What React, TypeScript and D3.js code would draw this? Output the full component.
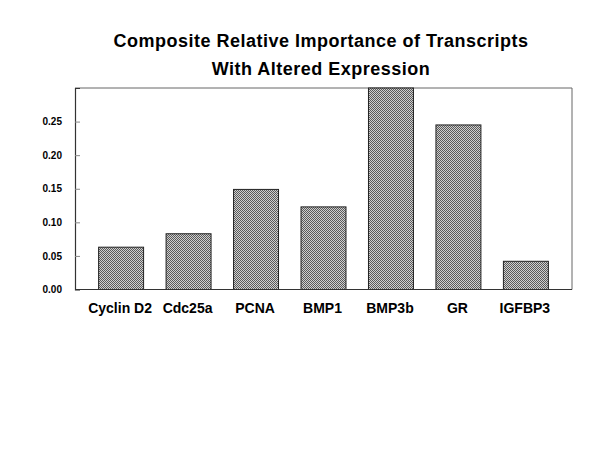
import { useRef, useEffect } from "react";
import * as d3 from "d3";

const categories = ["Cyclin D2", "Cdc25a", "PCNA", "BMP1", "BMP3b", "GR", "IGFBP3"];
const values = [0.063, 0.083, 0.149, 0.123, 0.3, 0.245, 0.042];
const yTicks = [0, 0.05, 0.1, 0.15, 0.2, 0.25];
const titleLines = ["Composite Relative Importance of Transcripts", "With Altered Expression"];

const App = () => {
  const svgRef = useRef<SVGSVGElement>(null);

  useEffect(() => {
    const svg = d3.select(svgRef.current);
    svg.selectAll("*").remove();

    const width = 600;
    const height = 462;
    const left = 75;
    const right = 572;
    const top = 88;
    const bottom = 289.5;
    const font = "'Liberation Sans', Arial, Helvetica, sans-serif";

    const defs = svg.append("defs");
    const pat = defs
      .append("pattern")
      .attr("id", "dither")
      .attr("width", 2)
      .attr("height", 2)
      .attr("patternUnits", "userSpaceOnUse");
    pat.append("rect").attr("width", 2).attr("height", 2).attr("fill", "#d0d0d0");
    pat.append("rect").attr("width", 1).attr("height", 1).attr("fill", "#5a5a5a");
    pat.append("rect").attr("x", 1).attr("y", 1).attr("width", 1).attr("height", 1).attr("fill", "#5a5a5a");

    svg.append("rect").attr("width", width).attr("height", height).attr("fill", "#fff");

    const x = d3
      .scaleBand()
      .domain(categories)
      .range([left, right])
      .paddingInner(1 / 3)
      .paddingOuter(0.35);

    const y = d3.scaleLinear().domain([0, 0.3]).range([bottom, top]);

    // frame
    svg
      .append("path")
      .attr("d", `M${left},${top}H${right}V${bottom}`)
      .attr("fill", "none")
      .attr("stroke", "#666")
      .attr("stroke-width", 1);

    // bars
    svg
      .selectAll(".bar")
      .data(categories)
      .enter()
      .append("rect")
      .attr("class", "bar")
      .attr("x", (d) => x(d)!)
      .attr("y", (d, i) => y(values[i]))
      .attr("width", x.bandwidth())
      .attr("height", (d, i) => y(0) - y(values[i]))
      .attr("fill", "url(#dither)")
      .attr("stroke", "#222")
      .attr("stroke-width", 1);

    // y axis
    const yAxis = svg
      .append("g")
      .attr("transform", `translate(${left},0)`)
      .call(
        d3
          .axisLeft(y)
          .tickValues(yTicks)
          .tickSize(-5)
          .tickPadding(13)
          .tickFormat(d3.format(".2f"))
      );
    yAxis.select(".domain").attr("stroke", "#333").attr("stroke-width", 1.2);
    yAxis.selectAll(".tick line").attr("stroke", "#888");
    yAxis
      .selectAll(".tick text")
      .attr("font-family", font)
      .attr("font-size", 10)
      .attr("font-weight", "bold")
      .attr("fill", "#000");

    // x axis baseline
    svg
      .append("line")
      .attr("x1", left)
      .attr("x2", right)
      .attr("y1", bottom)
      .attr("y2", bottom)
      .attr("stroke", "#333")
      .attr("stroke-width", 1.2);

    // x labels
    svg
      .selectAll(".xlabel")
      .data(categories)
      .enter()
      .append("text")
      .attr("class", "xlabel")
      .attr("x", (d) => x(d)! + x.bandwidth() / 2 - 1)
      .attr("y", 313)
      .attr("text-anchor", "middle")
      .attr("font-family", font)
      .attr("font-size", 14)
      .attr("font-weight", "bold")
      .text((d) => d);

    // title
    svg
      .selectAll(".title")
      .data(titleLines)
      .enter()
      .append("text")
      .attr("class", "title")
      .attr("x", 321)
      .attr("y", (d, i) => 47 + i * 27.5)
      .attr("text-anchor", "middle")
      .attr("font-family", font)
      .attr("font-size", 18)
      .attr("font-weight", "bold")
      .attr("letter-spacing", 0.5)
      .text((d) => d);
  }, []);

  return (
    <svg
      ref={svgRef}
      width={600}
      height={462}
      style={{ position: "absolute", left: 0, top: 0, display: "block" }}
    />
  );
};

export default App;
